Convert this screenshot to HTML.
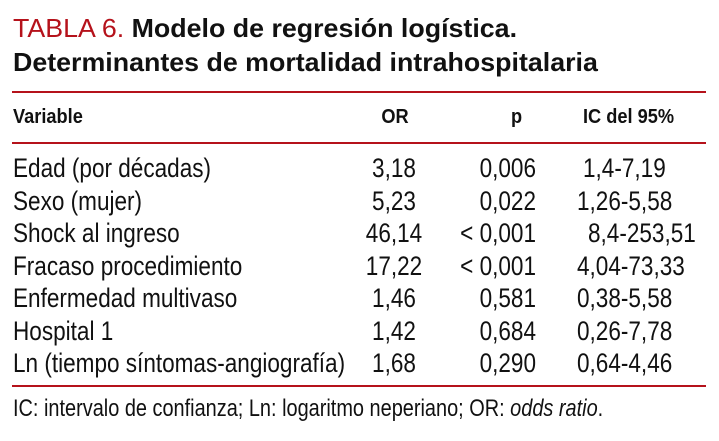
<!DOCTYPE html>
<html>
<head>
<meta charset="utf-8">
<style>
  html,body{margin:0;padding:0;background:#fff;}
  body{width:719px;height:441px;position:relative;overflow:hidden;font-family:"Liberation Sans",Arial,sans-serif;color:#111;}
  .t{position:absolute;white-space:nowrap;line-height:1;transform-origin:0 0;}
  .title{font-size:26px;font-weight:bold;transform:scaleX(1.03);left:13px;color:#111;}
  .red{color:#b5121b;font-weight:normal;}
  .rule{position:absolute;left:12px;width:694px;height:2px;background:#b5121b;}
  .h{font-size:20px;font-weight:bold;transform:scaleX(0.91);}
  .b{font-size:27px;transform:scaleX(0.835);}
  .c{width:100px;text-align:center;transform-origin:50% 0;}
  .r{width:120px;text-align:right;transform-origin:100% 0;}
  .f{font-size:24px;transform:scaleX(0.83);left:13px;}
</style>
</head>
<body>
  <div class="t title" style="top:14.7px;"><span class="red">TABLA 6.</span> Modelo de regresión logística.</div>
  <div class="t title" style="top:49px;">Determinantes de mortalidad intrahospitalaria</div>

  <div class="rule" style="top:91px;"></div>
  <div class="t h" style="left:13px;top:107px;">Variable</div>
  <div class="t h c" style="left:345px;top:107px;">OR</div>
  <div class="t h" style="left:511px;top:107px;">p</div>
  <div class="t h" style="left:583px;top:107px;">IC del 95%</div>
  <div class="rule" style="top:142px;"></div>

  <!-- rows -->
  <div class="t b" style="left:13px;top:155px;">Edad (por décadas)</div>
  <div class="t b c" style="left:344px;top:155px;">3,18</div>
  <div class="t b r" style="left:416px;top:155px;">0,006</div>
  <div class="t b" style="left:583px;top:155px;">1,4-7,19</div>

  <div class="t b" style="left:13px;top:187.5px;">Sexo (mujer)</div>
  <div class="t b c" style="left:344px;top:187.5px;">5,23</div>
  <div class="t b r" style="left:416px;top:187.5px;">0,022</div>
  <div class="t b" style="left:577px;top:187.5px;">1,26-5,58</div>

  <div class="t b" style="left:13px;top:220px;">Shock al ingreso</div>
  <div class="t b c" style="left:344px;top:220px;">46,14</div>
  <div class="t b r" style="left:416px;top:220px;">&lt; 0,001</div>
  <div class="t b" style="left:588px;top:220px;">8,4-253,51</div>

  <div class="t b" style="left:13px;top:252.5px;">Fracaso procedimiento</div>
  <div class="t b c" style="left:344px;top:252.5px;">17,22</div>
  <div class="t b r" style="left:416px;top:252.5px;">&lt; 0,001</div>
  <div class="t b" style="left:577px;top:252.5px;">4,04-73,33</div>

  <div class="t b" style="left:13px;top:285px;">Enfermedad multivaso</div>
  <div class="t b c" style="left:344px;top:285px;">1,46</div>
  <div class="t b r" style="left:416px;top:285px;">0,581</div>
  <div class="t b" style="left:577px;top:285px;">0,38-5,58</div>

  <div class="t b" style="left:13px;top:317.5px;">Hospital 1</div>
  <div class="t b c" style="left:344px;top:317.5px;">1,42</div>
  <div class="t b r" style="left:416px;top:317.5px;">0,684</div>
  <div class="t b" style="left:577px;top:317.5px;">0,26-7,78</div>

  <div class="t b" style="left:13px;top:350px;">Ln (tiempo síntomas-angiografía)</div>
  <div class="t b c" style="left:344px;top:350px;">1,68</div>
  <div class="t b r" style="left:416px;top:350px;">0,290</div>
  <div class="t b" style="left:577px;top:350px;">0,64-4,46</div>

  <div class="rule" style="top:385px;"></div>

  <div class="t f" style="top:396.7px;">IC: intervalo de confianza; Ln: logaritmo neperiano; OR: <i>odds ratio</i>.</div>
</body>
</html>
